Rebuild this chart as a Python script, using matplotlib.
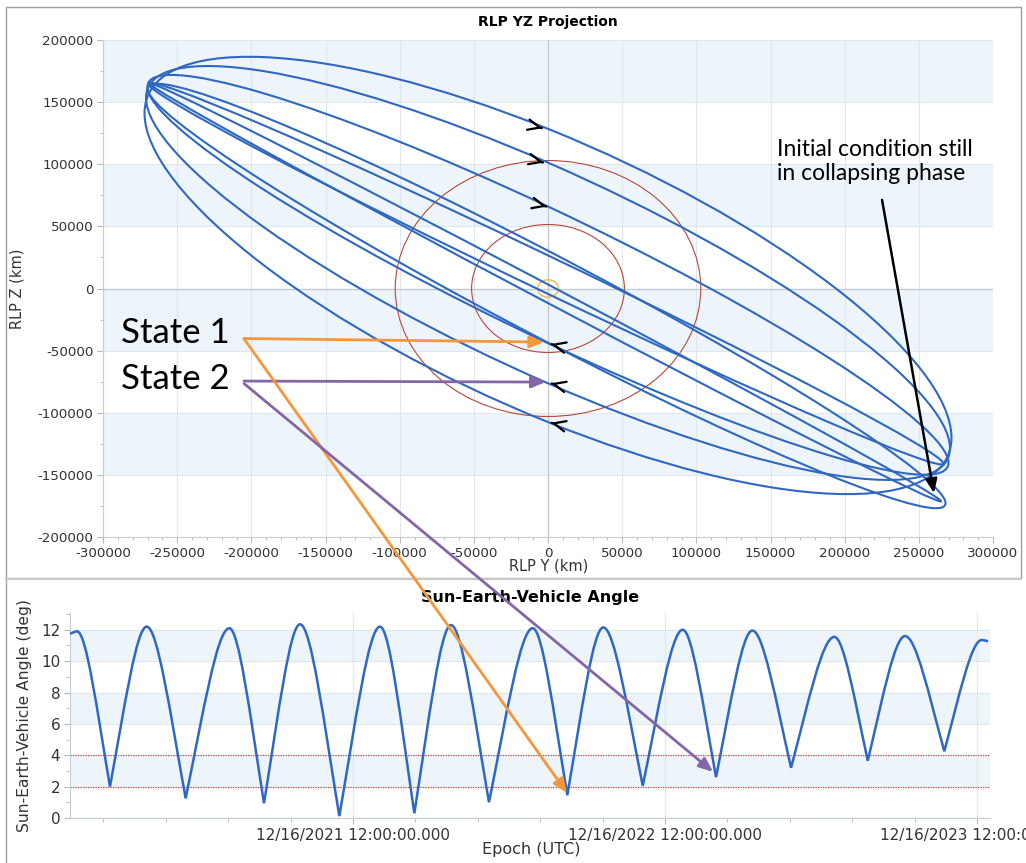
import datetime as dt
import numpy as np
import matplotlib
matplotlib.use("Agg")
import matplotlib.pyplot as plt
import matplotlib.dates as mdates
import matplotlib.ticker as mticker
from matplotlib.patches import Ellipse, ConnectionPatch, Rectangle, PathPatch
from matplotlib.path import Path
from matplotlib.transforms import Affine2D

plt.rcParams['font.family'] = 'DejaVu Sans'
plt.rcParams['axes.unicode_minus'] = False

W, H = 1026, 863

# --- RLP YZ projection: one loop per revolution (km) ---
# centre z and half gap where the loop crosses y = 0, half extent in y,
# and the slope of the loop's centre line
loop_cy = [0, 0, 0, -1000, -1500, -2000]
loop_cz = [10500, 12500, 11000, -6000, 12000, -3000]
loop_half_gap = [118000, 88800, 55000, 37000, 15500, 7500]
loop_half_y = [272000, 271000, 270000, 269000, 268000, 267000]
loop_slope = [-0.48, -0.52, -0.56, -0.62, -0.57, -0.63]

# reference circles around the libration point (km)
ring_r = [103000, 51500]
core_r = 7000

# direction chevrons on the orbit (y, z, direction)
chev_y = [-3800, -3100, -900, 2200, 2200, 2200]
chev_z = [129000, 101300, 65900, -44700, -76300, -108000]
chev_dir = [1, 1, 1, -1, -1, -1]

# --- Sun-Earth-Vehicle angle: extremes ---
epoch0 = dt.datetime(2021, 12, 16, 12)
sev_days = [-331.3, -323.0, -284.5, -241.5, -195.9, -144.8, -104.2, -62.0,
            -16.0, 31.6, 71.8, 114.7, 159.2, 210.4, 250.9, 293.0, 339.2,
            386.0, 425.0, 467.5, 512.8, 563.5, 602.6, 646.2, 692.2, 736.0,
            743.4]
sev_deg = [11.75, 11.9, 2.0, 12.2, 1.25, 12.1, 0.94, 12.35, 0.12, 12.2, 0.3,
           12.3, 1.0, 12.1, 1.45, 12.15, 2.05, 12.0, 2.6, 11.95, 3.2, 11.55,
           3.65, 11.6, 4.25, 11.35, 11.27]
sev_kind = ['e', 'p'] + ['t', 'p'] * 12 + ['e']
limit_lines = [2, 4]

tick_years = [2021, 2022, 2023]

blue = '#2f68c2'
band = '#eef5fa'
grid = '#dfe6ec'
orange = '#f4973a'
purple = '#8466a8'

fig = plt.figure(figsize=(W / 100, H / 100), dpi=100)

# ---------------- top panel ----------------
ax1 = fig.add_axes([103 / W, 1 - 537 / H, 890 / W, 497 / H])
ax1.set_xlim(-300000, 300000)
ax1.set_ylim(-200000, 200000)
for lo in [150000, 50000, -50000, -150000]:
    ax1.axhspan(lo, lo + 50000, color=band, zorder=0, lw=0)
ax1.grid(True, color=grid, lw=0.8, zorder=0.5)
ax1.axhline(0, color='#c2c8ce', lw=0.9, zorder=0.6)
ax1.axvline(0, color='#c2c8ce', lw=0.9, zorder=0.6)
ax1.set_axisbelow(True)

circle = Path.unit_circle()
for cy, cz, h0, ym, s in zip(loop_cy, loop_cz, loop_half_gap, loop_half_y,
                             loop_slope):
    shape = Affine2D(np.array([[ym, 0, cy], [s * ym, h0, cz], [0, 0, 1]]))
    ax1.add_patch(PathPatch(shape.transform_path(circle), fill=False,
                            ec=blue, lw=1.5, zorder=3))
for r in ring_r:
    ax1.add_patch(Ellipse((0, 0), 2 * r, 2 * r, fill=False, ec='#b5473d',
                          lw=0.8, zorder=2))
ax1.add_patch(Ellipse((0, 0), 2 * core_r, 2 * core_r, fill=False,
                      ec='#f0b84a', lw=1.0, zorder=2))

for y, z, d in zip(chev_y, chev_z, chev_dir):
    ax1.annotate('', xy=(y, z), xytext=(y - d * 300, z + d * 90),
                 arrowprops=dict(arrowstyle='->,head_length=0.85,head_width=0.38',
                                 lw=1.6, color='black', shrinkA=0, shrinkB=0),
                 zorder=5)

ax1.xaxis.set_major_locator(mticker.MultipleLocator(50000))
ax1.xaxis.set_minor_locator(mticker.MultipleLocator(10000))
ax1.yaxis.set_major_locator(mticker.MultipleLocator(50000))
ax1.yaxis.set_minor_locator(mticker.MultipleLocator(25000))
ax1.xaxis.set_major_formatter(mticker.FormatStrFormatter('%d'))
ax1.yaxis.set_major_formatter(mticker.FormatStrFormatter('%d'))
for s in ['top', 'right']:
    ax1.spines[s].set_visible(False)
for s in ['left', 'bottom']:
    ax1.spines[s].set_color('#c5ccd3')
ax1.tick_params(which='both', colors='#b0b8c0', labelcolor='#333333',
                labelsize=9.7, direction='out')
ax1.tick_params(which='major', length=4, pad=3)
ax1.tick_params(which='minor', length=2.5)
ax1.set_xlabel('RLP Y (km)', fontsize=10.5, color='#333333')
ax1.set_ylabel('RLP Z (km)', fontsize=10.5, color='#333333')
ax1.xaxis.set_label_coords(0.501, -0.058)
ax1.xaxis.label.set_va('center')
ax1.yaxis.set_label_coords(-0.0966, 0.5)
ax1.yaxis.label.set_va('center')
ax1.text(0.5, 1.036, 'RLP YZ Projection', transform=ax1.transAxes,
         ha='center', va='center', fontsize=10, weight='bold')

ax1.text(-287800, -35800, 'State 1', fontsize=25, family='Lato',
         va='center', ha='left', zorder=6)
ax1.text(-287800, -72600, 'State 2', fontsize=25, family='Lato',
         va='center', ha='left', zorder=6)
ax1.text(154400, 120000, 'Initial condition still\nin collapsing phase',
         fontsize=16.5, family='Lato', va='top', ha='left', linespacing=1.15,
         zorder=6)
ax1.annotate('', xy=(260200, -164700), xytext=(225200, 71300),
             arrowprops=dict(arrowstyle='-|>,head_length=0.6,head_width=0.25',
                             lw=1.8, color='black', shrinkA=0, shrinkB=0,
                             mutation_scale=14), zorder=6)
ax1.annotate('', xy=(-2700, -43100), xytext=(-204900, -40250),
             arrowprops=dict(arrowstyle='-|>,head_length=0.6,head_width=0.25',
                             lw=2, color=orange, shrinkA=0, shrinkB=0,
                             mutation_scale=14), zorder=6)
ax1.annotate('', xy=(-1600, -75300), xytext=(-204900, -74500),
             arrowprops=dict(arrowstyle='-|>,head_length=0.6,head_width=0.25',
                             lw=2, color=purple, shrinkA=0, shrinkB=0,
                             mutation_scale=14), zorder=6)

# ---------------- bottom panel ----------------
ax2 = fig.add_axes([70 / W, 1 - 818 / H, 920 / W, 205 / H])
t0 = mdates.date2num(epoch0)
tx = t0 + np.array(sev_days)
tv = np.array(sev_deg)

# smooth path through the extremes: rounded peaks, sharp troughs
verts = [(tx[0], tv[0])]
codes = [Path.MOVETO]
for i in range(len(tx) - 1):
    dx = tx[i + 1] - tx[i]
    chord = (tv[i + 1] - tv[i]) / dx
    hand, slope = [], []
    for k in (sev_kind[i], sev_kind[i + 1]):
        if k == 'p':
            hand.append(0.28 * dx)
            slope.append(0.0)
        elif k == 't':
            hand.append(0.4 * dx)
            slope.append(1.25 * chord)
        else:
            hand.append(dx / 3)
            slope.append(chord)
    verts += [(tx[i] + hand[0], tv[i] + slope[0] * hand[0]),
              (tx[i + 1] - hand[1], tv[i + 1] - slope[1] * hand[1]),
              (tx[i + 1], tv[i + 1])]
    codes += [Path.CURVE4] * 3
ax2.add_patch(PathPatch(Path(verts, codes), fill=False, ec=blue, lw=1.8,
                        zorder=3))

ax2.set_xlim(t0 - 331.3, t0 + 745.7)
ax2.set_ylim(0, 13.07)
for lo in [2, 6, 10]:
    ax2.axhspan(lo, lo + 2, color=band, zorder=0, lw=0)
for v in limit_lines:
    ax2.axhline(v, color='#c0504d', lw=0.9, ls=(0, (1, 1)), zorder=2)

major = [mdates.date2num(dt.datetime(y, 12, 16, 12)) for y in tick_years]
ax2.xaxis.set_major_locator(mticker.FixedLocator(major))
ax2.xaxis.set_major_formatter(mticker.FixedFormatter(
    ['12/16/%d 12:00:00.000' % y for y in tick_years]))
ax2.xaxis.set_minor_locator(mticker.FixedLocator(t0 + 73.05 * np.arange(-4, 11)))
ax2.yaxis.set_major_locator(mticker.MultipleLocator(2))
ax2.yaxis.set_minor_locator(mticker.MultipleLocator(1))
ax2.grid(True, which='major', color=grid, lw=0.8, zorder=0.5)
ax2.set_axisbelow(True)
for s in ['top', 'right']:
    ax2.spines[s].set_visible(False)
for s in ['left', 'bottom']:
    ax2.spines[s].set_color('#c5ccd3')
ax2.tick_params(which='both', colors='#b0b8c0', labelcolor='#333333',
                labelsize=11, direction='out')
ax2.tick_params(which='major', length=4, pad=3)
ax2.tick_params(which='minor', length=3)
ax2.set_xlabel('Epoch (UTC)', fontsize=11.5, color='#333333')
ax2.set_ylabel('Sun-Earth-Vehicle Angle (deg)', fontsize=11.2, color='#333333')
ax2.xaxis.set_label_coords(0.501, -0.156)
ax2.xaxis.label.set_va('center')
ax2.yaxis.set_label_coords(-0.049, 0.498)
ax2.yaxis.label.set_va('center')
ax2.text(0.5, 1.078, 'Sun-Earth-Vehicle Angle', transform=ax2.transAxes,
         ha='center', va='center', fontsize=11.5, weight='bold')

# arrows from the states down to the angle history
for (ya, za), (db, vb), col in [((-204900, -40500), (250.5, 1.6), orange),
                                 ((-204900, -76500), (421.5, 2.94), purple)]:
    con = ConnectionPatch(xyA=(ya, za), coordsA=ax1.transData,
                          xyB=(t0 + db, vb), coordsB=ax2.transData,
                          arrowstyle='-|>,head_length=0.6,head_width=0.25',
                          mutation_scale=14, color=col, lw=2,
                          shrinkA=0, shrinkB=0, zorder=7)
    fig.add_artist(con)

# panel frames
fig.add_artist(Rectangle((6 / W, 1 - 578 / H), 1015 / W, 571 / H,
                         transform=fig.transFigure, fill=False,
                         ec='#a0a0a0', lw=1))
fig.add_artist(plt.Line2D([6 / W, 6 / W], [0, 1 - 578 / H],
                          transform=fig.transFigure, color='#a0a0a0', lw=1))
fig.add_artist(plt.Line2D([6 / W, 1021 / W], [1 - 579 / H, 1 - 579 / H],
                          transform=fig.transFigure, color='#c8c8c8', lw=1.5))

fig.savefig('out.png', dpi=100)
